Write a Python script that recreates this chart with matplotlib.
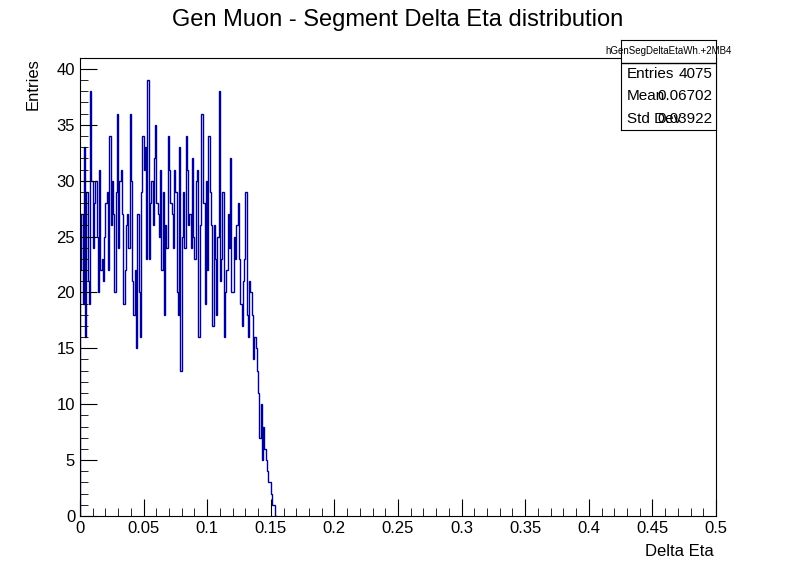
import numpy as np
import matplotlib
matplotlib.use("Agg")
import matplotlib.pyplot as plt
from matplotlib.ticker import MultipleLocator

plt.rcParams["font.family"] = ["Liberation Sans", "DejaVu Sans"]

# bin width 0.001, values read (approximately) off the picture
bin_lo = 0.0
bin_w = 0.001
counts = [
    22, 27, 19, 33, 16, 29, 21, 19, 38, 30, 24, 28, 30, 25, 20, 31, 22, 23, 21, 25,
    28, 29, 22, 34, 26, 30, 27, 20, 29, 36, 24, 30, 31, 27, 19, 22, 26, 27, 24, 36,
    30, 21, 18, 22, 15, 27, 20, 16, 29, 34, 31, 33, 23, 39, 23, 28, 30, 26, 32, 35,
    28, 27, 25, 31, 22, 29, 18, 26, 24, 34, 31, 28, 27, 24, 31, 29, 20, 18, 33, 13,
    25, 29, 24, 34, 31, 26, 27, 24, 32, 25, 23, 30, 31, 16, 26, 36, 36, 28, 19, 30,
    22, 34, 29, 26, 17, 26, 23, 18, 25, 38, 21, 23, 29, 16, 20, 22, 27, 24, 32, 20,
    20, 25, 23, 26, 28, 23, 19, 17, 21, 23, 29, 18, 16, 21, 20, 18, 14, 16, 15, 13,
    11, 7, 10, 5, 8, 6, 5, 4, 3, 3, 2, 1, 1, 0, 0,
]
entries = 4075
mean = 0.06702
std = 0.03922

edges = bin_lo + bin_w * np.arange(len(counts) + 1)

fig = plt.figure(figsize=(7.96, 5.72), dpi=100)
ax = fig.add_axes([0.1005, 0.098, 0.799, 0.801])
ax.stairs(counts, edges, color="#000099", lw=1.0)
ax.set_xlim(0, 0.5)
ax.set_ylim(0, 41.0)

ax.xaxis.set_major_locator(MultipleLocator(0.05))
ax.xaxis.set_minor_locator(MultipleLocator(0.01))
ax.yaxis.set_major_locator(MultipleLocator(5))
ax.yaxis.set_minor_locator(MultipleLocator(1))
ax.tick_params(which="both", direction="in", top=False, right=False, labelsize=12)
ax.tick_params(which="major", length=12)
ax.tick_params(which="minor", length=6)
ax.set_xticks(np.arange(0, 0.51, 0.05))
ax.set_xticklabels(["0", "0.05", "0.1", "0.15", "0.2", "0.25", "0.3", "0.35",
                    "0.4", "0.45", "0.5"])

fig.text(0.897, 0.022, "Delta Eta", ha="right", va="bottom", fontsize=12)
fig.text(0.032, 0.899, "Entries", ha="left", va="top", rotation=90, fontsize=12)
fig.text(0.5, 0.965, "Gen Muon - Segment Delta Eta distribution", ha="center",
         va="center", fontsize=17)

# stats box
bx0, bx1 = 621 / 796, 716 / 796
by_top, by_bot = 1 - 40 / 572, 1 - 130 / 572
box = fig.add_axes([bx0, by_bot, bx1 - bx0, by_top - by_bot])
box.set_xticks([])
box.set_yticks([])
box.set_xlim(0, 1)
box.set_ylim(0, 4)
box.axhline(3, color="black", lw=1)
box.text(0.5, 3.5, "hGenSegDeltaEtaWh.+2MB4", ha="center", va="center", fontsize=7)
rows = [("Entries", f"{entries}"), ("Mean", f"{mean:.5f}"), ("Std Dev", f"{std:.5f}")]
for i, (k, v) in enumerate(rows):
    y = 2.5 - i
    box.text(0.06, y, k, ha="left", va="center", fontsize=11)
    box.text(0.96, y, v, ha="right", va="center", fontsize=11)

fig.savefig("out.png", dpi=100)
